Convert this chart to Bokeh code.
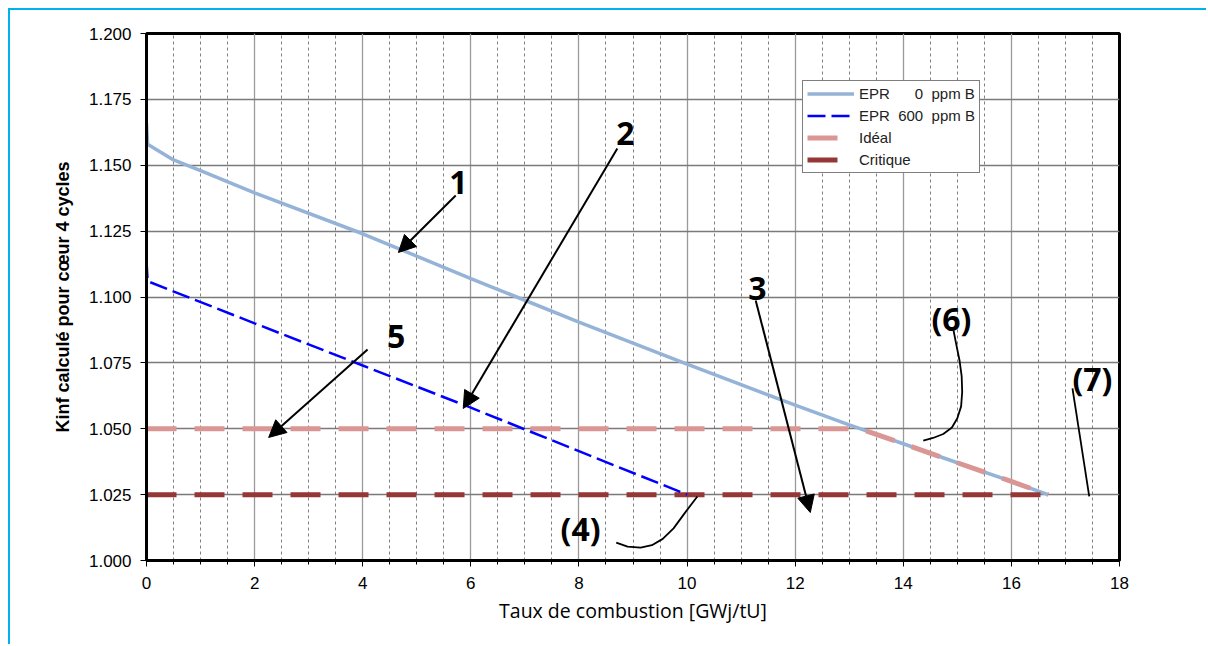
from bokeh.plotting import figure
from bokeh.models import (FixedTicker, NumeralTickFormatter, Legend, LegendItem,
                          Arrow, NormalHead, Label, Range1d)
from bokeh.embed import file_html
from bokeh.resources import INLINE

# ---- data ----
epr0_x = [0, 0.02, 0.5, 1, 2, 4, 6, 8, 10, 12, 13, 14, 15, 16, 16.68]
epr0_y = [1.166, 1.158, 1.152, 1.148, 1.1395, 1.124, 1.107, 1.0905, 1.0745, 1.059, 1.0515, 1.0443, 1.0371, 1.030, 1.025]

epr600_x = [0, 0.02, 2, 4, 6, 8, 10.0]
epr600_y = [1.114, 1.106, 1.090, 1.074, 1.058, 1.0415, 1.025]

ideal_level = 1.05
ideal_cross_x = 13.2
critique_level = 1.025
critique_end_x = 16.68

# Idéal: horizontal at 1.05, then follows the 0 ppm curve
ideal_x = [0, ideal_cross_x] + [x for x, y in zip(epr0_x, epr0_y) if x > ideal_cross_x]
ideal_y = [ideal_level, ideal_level] + [y for x, y in zip(epr0_x, epr0_y) if x > ideal_cross_x]

critique_x = [0, critique_end_x]
critique_y = [critique_level, critique_level]

x_ticks = [0, 2, 4, 6, 8, 10, 12, 14, 16, 18]
x_minor = [i * 0.5 for i in range(37)]
y_ticks = [1.000, 1.025, 1.050, 1.075, 1.100, 1.125, 1.150, 1.175, 1.200]

NB = "\u00a0"
labels = ["EPR" + NB * 6 + "0" + NB * 2 + "ppm B",
          "EPR" + NB * 2 + "600" + NB * 2 + "ppm B", "Idéal", "Critique"]

# annotations (text, x, y)
ann_texts = ["1", "2", "3", "5", "(6)", "(7)", "(4)"]
ann_x = [5.77, 8.86, 11.3, 4.62, 14.89, 17.5, 8.03]
ann_y = [1.1435, 1.162, 1.1032, 1.085, 1.0918, 1.0691, 1.0121]

# arrows (x_start, y_start, x_end, y_end)
arrows = [
    (5.72, 1.1385, 4.66, 1.1169),
    (8.71, 1.1564, 5.86, 1.0577),
    (11.27, 1.0987, 12.28, 1.0182),
    (4.09, 1.0801, 2.26, 1.0467),
]
curve6_x = [14.93, 14.98, 15.04, 15.08, 15.09, 15.07, 15.0, 14.9, 14.74, 14.55, 14.37]
curve6_y = [1.0873, 1.0820, 1.0760, 1.0700, 1.0640, 1.0585, 1.0540, 1.0505, 1.0480, 1.0465, 1.0455]
line7_x = [17.13, 17.44]
line7_y = [1.0653, 1.0243]
curve4_x = [8.69, 8.9, 9.14, 9.35, 9.55, 9.75, 9.95, 10.19]
curve4_y = [1.0068, 1.0053, 1.0049, 1.0058, 1.0082, 1.0122, 1.0178, 1.0243]

# ---- figure ----
p = figure(width=1198, height=636, output_backend="svg", toolbar_location=None,
           x_range=Range1d(0, 18), y_range=Range1d(1.0, 1.2),
           min_border_left=136, min_border_right=89, min_border_top=23, min_border_bottom=86)
p.styles = {"border-top": "2px solid #00B0F0", "border-left": "2px solid #00B0F0",
            "margin-left": "8px", "margin-top": "8px"}

p.outline_line_color = "black"
p.outline_line_width = 3
p.background_fill_color = "white"
p.border_fill_color = "white"

p.xaxis.ticker = FixedTicker(ticks=x_ticks, minor_ticks=x_minor)
p.yaxis.ticker = FixedTicker(ticks=y_ticks)
p.yaxis.formatter = NumeralTickFormatter(format="0.000")

for ax in (p.xaxis[0], p.yaxis[0]):
    ax.axis_line_width = 3
    ax.axis_line_color = "black"
    ax.major_tick_line_color = "black"
    ax.major_tick_in = 0
    ax.major_tick_out = 6
    ax.minor_tick_line_color = "black"
    ax.minor_tick_in = 0
    ax.minor_tick_out = 4
    ax.major_label_text_font = "Liberation Sans"
    ax.major_label_text_font_size = "17px"
    ax.major_label_text_color = "black"
    ax.axis_label_text_color = "black"
p.yaxis.minor_tick_line_color = None
p.xaxis.major_label_standoff = 10
p.yaxis.major_label_standoff = 9

p.yaxis.axis_label = "Kinf calculé pour cœur 4 cycles"
p.yaxis.axis_label_text_font = "Liberation Sans"
p.yaxis.axis_label_text_font_style = "bold"
p.yaxis.axis_label_text_font_size = "18px"
p.yaxis.axis_label_standoff = 13

p.xaxis.axis_label = "Taux de combustion [GWj/tU]"
p.xaxis.axis_label_text_font = "Open Sans"
p.xaxis.axis_label_text_font_style = "normal"
p.xaxis.axis_label_text_font_size = "19.5px"
p.xaxis.axis_label_standoff = 5

p.xgrid.grid_line_color = "#9a9a9a"
p.xgrid.grid_line_width = 1.3
p.xgrid.minor_grid_line_color = "#808080"
p.xgrid.minor_grid_line_dash = "3 3"
p.ygrid.grid_line_color = "#7a7a7a"
p.ygrid.grid_line_width = 1.3

# ---- series ----
r0 = p.line(epr0_x, epr0_y, line_color="#95B3D7", line_width=3.5)
ri = p.line(ideal_x, ideal_y, line_color="#D99694", line_width=5, line_dash="30 18")
rc = p.line(critique_x, critique_y, line_color="#953735", line_width=5, line_dash="30 18")
r6 = p.line(epr600_x, epr600_y, line_color="#0000FF", line_width=2.5, line_dash="18 6")

legend = Legend(items=[LegendItem(label=labels[0], renderers=[r0]),
                       LegendItem(label=labels[1], renderers=[r6]),
                       LegendItem(label=labels[2], renderers=[ri]),
                       LegendItem(label=labels[3], renderers=[rc])],
                location=(656, 387), margin=0, padding=4, spacing=5,
                glyph_width=47, glyph_height=17, label_height=17, label_standoff=5,
                label_text_font="Liberation Sans", label_text_font_size="15px",
                label_text_color="#222222",
                border_line_color="black", border_line_width=1,
                background_fill_color="white", background_fill_alpha=1)
p.add_layout(legend)

# ---- annotations ----
for t, x, y in zip(ann_texts, ann_x, ann_y):
    p.add_layout(Label(x=x, y=y, text=t, text_align="center", text_baseline="middle",
                       text_font="Open Sans", text_font_style="bold",
                       text_font_size="32px", text_color="black"))

for xs, ys, xe, ye in arrows:
    p.add_layout(Arrow(end=NormalHead(size=17, fill_color="black", line_color="black"),
                       x_start=xs, y_start=ys, x_end=xe, y_end=ye,
                       line_color="black", line_width=2))

p.line(curve6_x, curve6_y, line_color="black", line_width=1.8)
p.line(line7_x, line7_y, line_color="black", line_width=1.8)
p.line(curve4_x, curve4_y, line_color="black", line_width=1.8)

open("out.html", "w").write(file_html(p, INLINE))
